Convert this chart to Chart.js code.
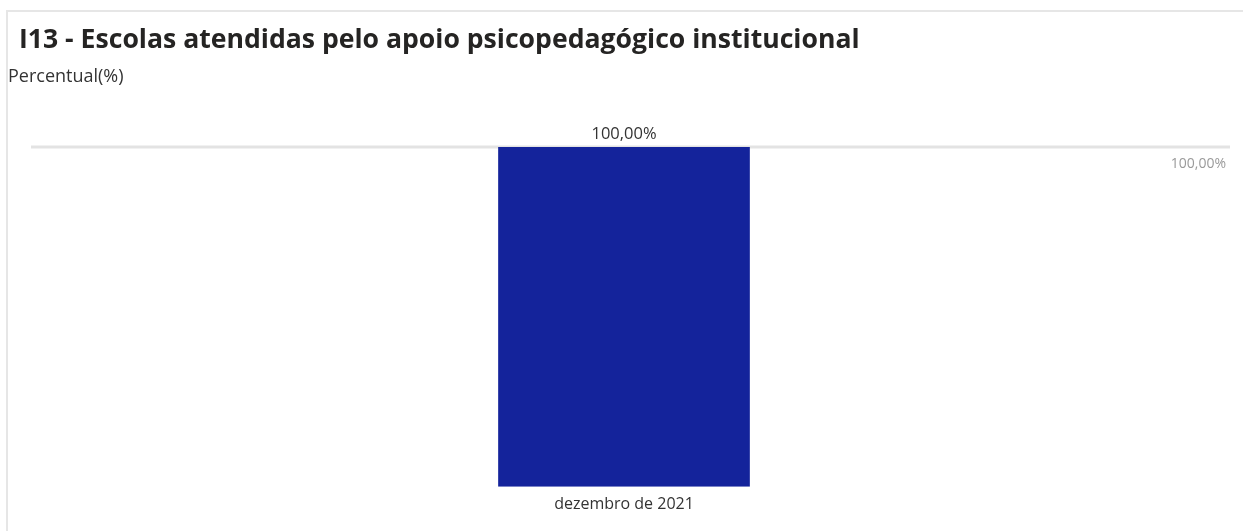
<!DOCTYPE html>
<html>
<head>
<meta charset="utf-8">
<script src="https://cdn.jsdelivr.net/npm/chart.js@4.4.0/dist/chart.umd.min.js"></script>
<style>
  html, body { margin: 0; padding: 0; background: #fff; }
  body { width: 1243px; height: 531px; position: relative; overflow: hidden; font-family: "Open Sans", "Noto Sans", sans-serif; }
  .frame { position: absolute; left: 6px; top: 10px; right: 0; bottom: 0; border-top: 2px solid #e6e6e6; border-left: 2px solid #e6e6e6; }
  .title { position: absolute; left: 19px; top: 20px; font-size: 26.6px; font-weight: 700; color: #252423; white-space: nowrap; }
  .subtitle { position: absolute; left: 8px; top: 63px; font-size: 18px; color: #333; white-space: nowrap; }
  .chart-box { position: absolute; left: 0; top: 0; width: 1243px; height: 531px; }
</style>
</head>
<body>
<div class="frame"></div>
<div class="chart-box"><canvas id="chart"></canvas></div>
<div class="title">I13 - Escolas atendidas pelo apoio psicopedagógico institucional</div>
<div class="subtitle">Percentual(%)</div>
<script>
// data
const categories = ['dezembro de 2021'];
const values = [100];
const target = [100];

const fmt = v => v.toFixed(2).replace('.', ',') + '%';

// constant line + labels
const extras = {
    id: 'extras',
    beforeDatasetsDraw(chart) {
        const ctx = chart.ctx;
        const y = chart.scales.y.getPixelForValue(target[0]);
        ctx.save();
        ctx.strokeStyle = '#e3e3e3';
        ctx.lineWidth = 3;
        ctx.beginPath();
        ctx.moveTo(31, y);
        ctx.lineTo(1230, y);
        ctx.stroke();
        ctx.fillStyle = '#9a9a9a';
        ctx.font = '14px "Open Sans"';
        ctx.textAlign = 'right';
        ctx.textBaseline = 'middle';
        ctx.fillText(fmt(target[0]), 1226, y + 17);
        ctx.restore();
    },
    afterDatasetsDraw(chart) {
        const ctx = chart.ctx;
        const meta = chart.getDatasetMeta(0);
        ctx.save();
        ctx.fillStyle = '#333';
        ctx.font = '16.5px "Open Sans"';
        ctx.textAlign = 'center';
        ctx.textBaseline = 'bottom';
        meta.data.forEach((bar, i) => {
            ctx.fillText(fmt(values[i]), bar.x, bar.y - 4);
        });
        ctx.restore();
    }
};

new Chart(document.getElementById('chart'), {
    type: 'bar',
    data: {
        labels: categories,
        datasets: [{
            data: values,
            backgroundColor: '#14239b',
            borderWidth: 0,
            categoryPercentage: 1,
            barPercentage: 0.208
        }]
    },
    options: {
        responsive: true,
        maintainAspectRatio: false,
        animation: false,
        layout: { padding: { left: 19, right: 14, top: 147, bottom: 9 } },
        plugins: { legend: { display: false }, tooltip: { enabled: false } },
        scales: {
            x: {
                grid: { display: false, drawTicks: false },
                border: { display: false },
                ticks: { color: '#333', font: { family: 'Open Sans', size: 16 }, padding: 8 }
            },
            y: { display: false, min: 0, max: 100 }
        }
    },
    plugins: [extras]
});
</script>
</body>
</html>
